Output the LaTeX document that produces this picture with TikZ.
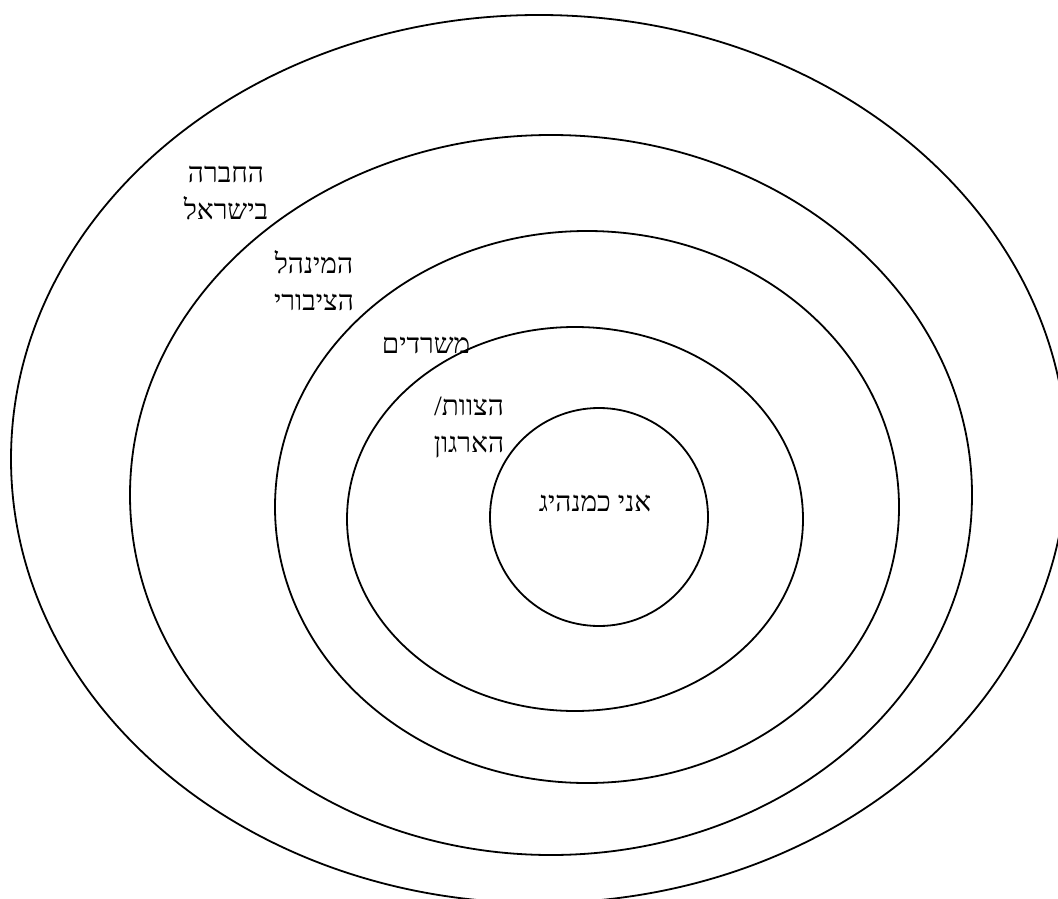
\documentclass[tikz,border=0pt]{standalone}
\usepackage{fontspec}
\TeXXeTstate=1
\newfontfamily\hebfont[Script=Hebrew]{Liberation Serif}
\usetikzlibrary{positioning}

\begin{document}
\begin{tikzpicture}[
    x=0.5pt, y=-0.5pt,
    ring/.style={
        draw,
        line width=0.9pt
    },
    label/.style={
        align=center,
        inner sep=0pt,
        font=\hebfont\fontsize{14}{18.5}\selectfont
    }
]

\useasboundingbox (0,0) rectangle (1058,898);
\clip (0,0) rectangle (1058,898);

% Centres
\coordinate (society) at (539,459);
\coordinate (public) at (551,495);
\coordinate (offices) at (587,507);
\coordinate (team) at (575,519);
\coordinate (me) at (599,517);

% Rings
\draw[ring] (society) ellipse [x radius=528, y radius=444];
\draw[ring] (public) ellipse [x radius=421, y radius=360];
\draw[ring] (offices) ellipse [x radius=312, y radius=276];
\draw[ring] (team) ellipse [x radius=228, y radius=192];
\draw[ring] (me) circle [radius=109];

% Labels
\node[label] (societytext) at (226,193) {\beginR החברה\endR\\\beginR בישראל\endR};
\node[label] (publictext) at (314,281) {\beginR המינהל\endR\\\beginR הציבורי\endR};
\node[label] (officestext) at (426,345) {\beginR משרדים\endR};
\node[label] (teamtext) at (469,428) {\beginR הצוות/\endR\\\beginR הארגון\endR};
\node[label] (metext) at (595,503) {\beginR אני כמנהיג\endR};

\end{tikzpicture}
\end{document}
